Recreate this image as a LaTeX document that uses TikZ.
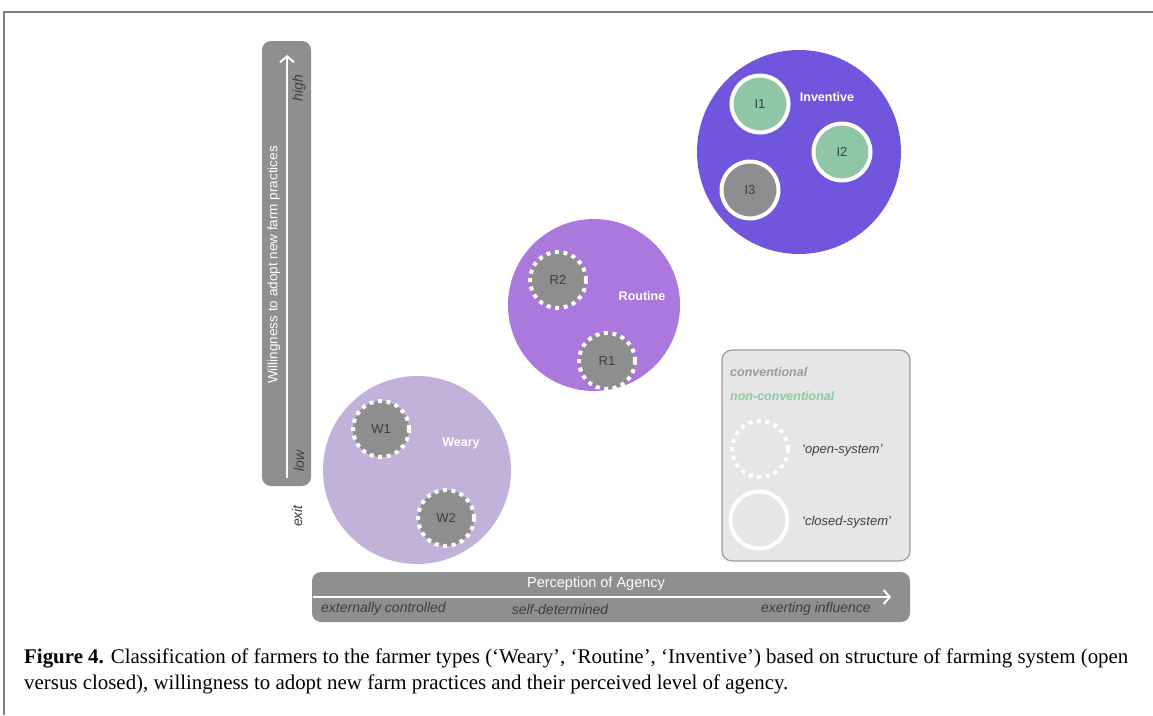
\documentclass[tikz,border=0pt]{standalone}
\usepackage{fontspec}
\setmainfont{Liberation Serif}
\setsansfont{Liberation Sans}
\usetikzlibrary{arrows.meta}
\definecolor{bargray}{HTML}{8F8F8F}
\definecolor{dotgray}{HTML}{8E8E8E}
\definecolor{txtgray}{HTML}{3E3E3E}
\definecolor{lightgray}{HTML}{9C9C9C}
\definecolor{inventive}{HTML}{7056DC}
\definecolor{routine}{HTML}{AB78DE}
\definecolor{weary}{HTML}{C2B1D9}
\definecolor{nonconv}{HTML}{8FC6A6}
\definecolor{legendbg}{HTML}{E6E6E6}
\tikzset{
  bar/.style={fill=bargray,draw=none,rounded corners=9pt},
  axisarrow/.style={->,draw=white,line width=2pt},
  axistitle/.style={text=white,font=\sffamily\fontsize{13.5}{16}\selectfont,inner sep=0pt},
  axisend/.style={text=txtgray,font=\sffamily\itshape\fontsize{14}{16}\selectfont,inner sep=0pt},
  group/.style={circle,draw=none,inner sep=0pt},
  grouplabel/.style={text=white,font=\sffamily\bfseries\fontsize{12.5}{15}\selectfont,inner sep=0pt},
  opensys/.style={circle,fill=dotgray,draw=white,line width=4pt,dash pattern=on 4pt off 4.6pt,
    minimum size=56pt,inner sep=0pt,text=txtgray,font=\sffamily\fontsize{13}{15}\selectfont},
  closedsys/.style={circle,draw=white,line width=4pt,minimum size=57pt,inner sep=0pt,
    text=txtgray,font=\sffamily\fontsize{13}{15}\selectfont},
  legendtxt/.style={anchor=west,inner sep=0pt,font=\sffamily\bfseries\itshape\fontsize{12.5}{15}\selectfont}
}
\begin{document}
\begin{tikzpicture}[x=1pt,y=-1pt,>={Straight Barb[length=6pt,width=14pt]}]
\useasboundingbox (0,0) rectangle (1153,715);
\draw[draw=gray,line width=2pt] (4,715) |- (1153,12);

\fill[bar] (262,41) rectangle (311,486);
\coordinate (ylow) at (287,478);
\coordinate (yhigh) at (287,55);
\draw[axisarrow] (ylow) -- (yhigh);
\node[axistitle,rotate=90] (willing) at (274,265) {Willingness to adopt new farm practices};
\node[axisend,rotate=90] (high) at (299,88) {high};
\node[axisend,rotate=90] (low) at (299,461) {low};
\node[axisend,rotate=90] (exit) at (297,516) {exit};

\fill[bar] (312,572) rectangle (910,622);
\coordinate (xlow) at (313,597);
\coordinate (xhigh) at (891,597);
\draw[axisarrow] (xlow) -- (xhigh);
\node[axistitle,font=\sffamily\fontsize{14.5}{16}\selectfont] (agency) at (596,584) {Perception of Agency};
\node[axisend,anchor=west] (extern) at (321,609) {externally controlled};
\node[axisend] (selfdet) at (560,609) {self-determined};
\node[axisend,anchor=east] (exert) at (871,609) {exerting influence};

\node[group,fill=weary,minimum size=188pt] (weary) at (417,470) {};
\node[group,fill=routine,minimum size=172pt] (routine) at (594,305) {};
\node[group,fill=inventive,minimum size=204pt] (inventive) at (799,152) {};
\node[grouplabel] (wearylab) at (461,443) {Weary};
\node[grouplabel] (routinelab) at (642,296) {Routine};
\node[grouplabel] (inventivelab) at (827,97) {Inventive};

\node[opensys] (w1) at (381,429) {W1};
\node[opensys] (w2) at (446,518) {W2};
\node[opensys] (r2) at (558,280) {R2};
\node[opensys] (r1) at (607,361) {R1};
\node[closedsys,fill=nonconv] (i1) at (760,104) {I1};
\node[closedsys,fill=nonconv] (i2) at (842,152) {I2};
\node[closedsys,fill=dotgray] (i3) at (750,190) {I3};

\draw[fill=legendbg,draw=lightgray,line width=1.2pt,rounded corners=10pt] (722,350) rectangle (910,561);
\node[legendtxt,text=lightgray] (conv) at (730,372) {conventional};
\node[legendtxt,text=nonconv] (nonconv) at (730,396) {non-conventional};
\node[opensys,fill=none] (opensample) at (760,449) {};
\node[closedsys] (closedsample) at (759,520) {};
\node[axisend,anchor=west,font=\sffamily\itshape\fontsize{13}{15}\selectfont] (openlab) at (802,450) {‘open-system’};
\node[axisend,anchor=west,font=\sffamily\itshape\fontsize{13}{15}\selectfont] (closedlab) at (802,522) {‘closed-system’};

\node[anchor=north west,align=left,inner sep=0pt,font=\rmfamily\fontsize{20.9}{26}\selectfont] (caption) at (24,649)
  {\textbf{Figure 4.} Classification of farmers to the farmer types (‘Weary’, ‘Routine’, ‘Inventive’) based on structure of farming system (open\\
   versus closed), willingness to adopt new farm practices and their perceived level of agency.};
\end{tikzpicture}
\end{document}
